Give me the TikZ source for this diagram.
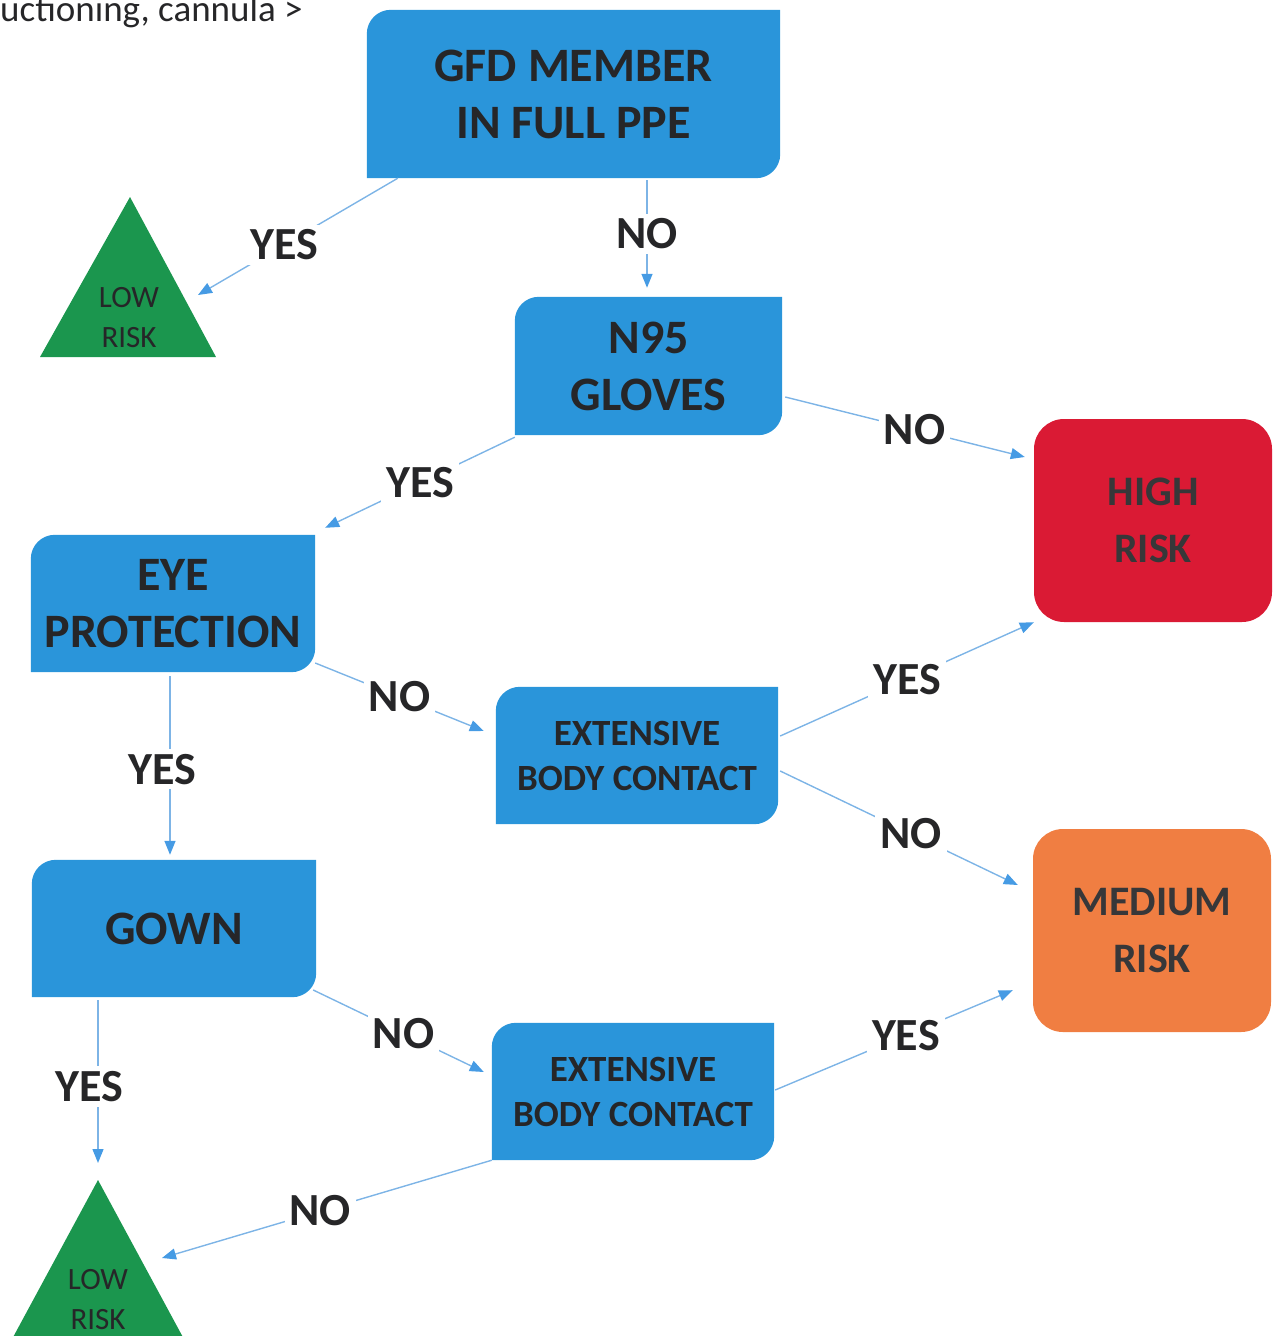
\documentclass[tikz,border=0pt]{standalone}
\usepackage{fontspec}
\setmainfont{Carlito}
\usetikzlibrary{calc,arrows.meta}
\pgfdeclarelayer{background}
\pgfsetlayers{background,main}
\definecolor{boxblue}{RGB}{42,149,218}
\definecolor{riskred}{RGB}{218,26,52}
\definecolor{riskorange}{RGB}{240,126,66}
\definecolor{riskgreen}{RGB}{27,150,78}
\definecolor{linkblue}{RGB}{125,180,230}
\definecolor{tipblue}{RGB}{70,155,228}
\definecolor{ink}{RGB}{38,38,40}
\tikzset{
  bluebox/.style={inner sep=0pt, align=center, text=ink, font=\bfseries\fontsize{48}{57}\selectfont},
  smallbox/.style={bluebox, font=\bfseries\fontsize{37}{45}\selectfont},
  riskbox/.style={rounded corners=30pt, inner sep=0pt, align=center, text=ink!92!white, minimum width=238pt, minimum height=203pt, font=\bfseries\fontsize{42}{57}\selectfont},
  lowtext/.style={align=center, inner sep=0pt, text=ink, font=\fontsize{31}{40}\selectfont},
  conn/.style={draw=linkblue, line width=1.4pt, -{Triangle[length=14pt,width=11pt,color=tipblue]}},
  lbl/.style={fill=white, inner sep=5pt, text=ink, font=\bfseries\fontsize{46}{50}\selectfont}
}
\begin{document}
\begin{tikzpicture}[x=1pt,y=-1pt]
\useasboundingbox (0,0) rectangle (1276,1336);
\node[anchor=base west, inner sep=0pt, text=ink, font=\fontsize{37}{42}\selectfont] (toptext) at (0,21) {uctioning, cannula >};

% process boxes
\node[bluebox, minimum width=413pt, minimum height=168pt] (gfd) at (573.5,94) {GFD MEMBER\\IN FULL PPE};
\node[bluebox, minimum width=267pt, minimum height=138pt] (n95) at (648.5,366) {N95\\GLOVES};
\node[bluebox, minimum width=284pt, minimum height=137pt] (eye) at (173,603.5) {EYE\\PROTECTION};
\node[smallbox, minimum width=282pt, minimum height=137pt] (ext1) at (637,755.5) {EXTENSIVE\\BODY CONTACT};
\node[bluebox, minimum width=284pt, minimum height=137pt] (gown) at (174,928.5) {GOWN};
\node[smallbox, minimum width=282pt, minimum height=137pt] (ext2) at (633,1091.5) {EXTENSIVE\\BODY CONTACT};

% risk boxes
\node[riskbox, fill=riskred] (high) at (1153,520.5) {HIGH\\RISK};
\node[riskbox, fill=riskorange] (med) at (1152,930.5) {MEDIUM\\RISK};

% low risk triangles
\fill[riskgreen] (130,197) -- (216,357) -- (40,357) -- cycle;
\node[lowtext] (low1) at (129,318) {LOW\\RISK};
\fill[riskgreen] (98,1180) -- (185,1341) -- (11,1341) -- cycle;
\node[lowtext] (low2) at (98,1300) {LOW\\RISK};
\coordinate (low1in) at (198,295);
\coordinate (low2in) at (98,1163);
\coordinate (low2side) at (162,1258);

\begin{pgfonlayer}{background}
\foreach \n in {gfd,n95,eye,ext1,gown,ext2}{
  \fill[boxblue] (\n.south west) -- ([yshift=-24pt]\n.north west)
    arc[start angle=180,end angle=90,radius=24pt] -- (\n.north east)
    -- ([yshift=24pt]\n.south east)
    arc[start angle=0,end angle=-90,radius=24pt] -- cycle;
}
\end{pgfonlayer}

% connectors
\draw[conn] ($(gfd.south west)+(31,0)$) -- node[lbl, pos=0.57] {YES} (low1in);
\draw[conn] ($(gfd.south)+(73.5,2)$) -- node[lbl, pos=0.5] {NO} ($(n95.north)+(-1.5,-9)$);
\draw[conn] ($(n95.east)+(3,31)$) -- node[lbl, pos=0.54] {NO} ($(high.west)+(-9,-63.5)$);
\draw[conn] ($(n95.south west)+(0,2)$) -- node[lbl, pos=0.5] {YES} ($(eye.north east)+(10,-7)$);
\draw[conn] ($(eye.east)+(0,59.5)$) -- node[lbl, pos=0.5] {NO} ($(ext1.west)+(-12,-24.5)$);
\draw[conn] ($(eye.south)+(-3,4)$) -- node[lbl, pos=0.52, xshift=-8pt] {YES} ($(gown.north)+(-4,-5)$);
\draw[conn] ($(ext1.east)+(2,-19.5)$) -- node[lbl, pos=0.5] {YES} (high.south west);
\draw[conn] ($(ext1.east)+(2,15.5)$) -- node[lbl, pos=0.55] {NO} ($(med.west)+(-15,-45.5)$);
\draw[conn] ($(gown.east)+(-3,61.5)$) -- node[lbl, pos=0.53] {NO} ($(ext2.west)+(-8,-19.5)$);
\draw[conn] ($(gown.south)+(-76,3)$) -- node[lbl, pos=0.53, xshift=-9pt] {YES} (low2in);
\draw[conn] ($(ext2.east)+(1,-1.5)$) -- node[lbl, pos=0.55] {YES} ($(med.south west)+(-20,-42)$);
\draw[conn] (ext2.south west) -- node[lbl, pos=0.52] {NO} (low2side);
\end{tikzpicture}
\end{document}
